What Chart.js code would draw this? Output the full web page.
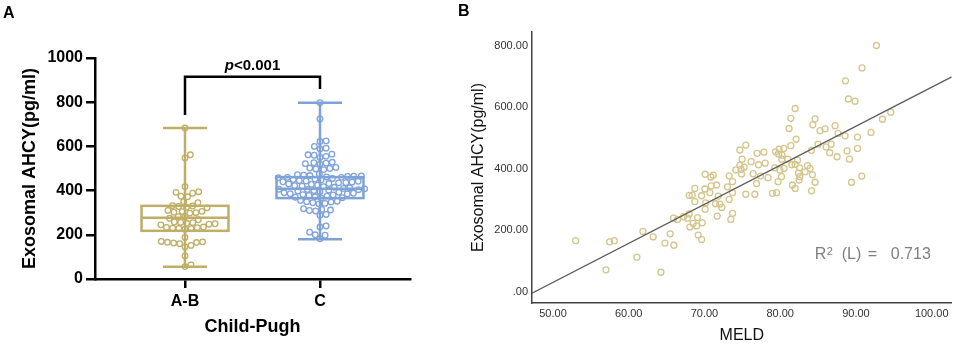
<!DOCTYPE html>
<html lang="en">
<head>
<meta charset="UTF-8">
<title>Exosomal AHCY</title>
<script src="https://cdn.jsdelivr.net/npm/chart.js"></script>
<style>
  body { margin: 0; background: #fff; width: 957px; height: 346px; position: relative; overflow: hidden; font-family: Arial, "Liberation Sans", sans-serif; }
  canvas { position: absolute; top: 0; }
  #chartA { left: 0; }
  #chartB { left: 440px; }
  .tag { position: absolute; font-weight: bold; font-size: 16px; color: #000; z-index: 2; }
</style>
</head>
<body>
<div class="tag" style="left:3px; top:4px;">A</div>
<div class="tag" style="left:458px; top:2px;">B</div>
<canvas id="chartA" width="440" height="346"></canvas>
<canvas id="chartB" width="517" height="346"></canvas>
<script>
const FONT = 'Arial, "Liberation Sans", sans-serif';

// ---- panel A: Child-Pugh groups ----
const groupNames = ['A-B', 'C'];
const groupColors = ['#BFAE66', '#7FA3D8'];
const valuesAB = [56, 64, 104, 145, 152, 160, 163, 165, 166, 168, 170, 188, 225, 228, 229, 230, 232, 233, 235,
  245, 248, 250, 252, 255, 256, 258, 268, 275, 280, 282, 298, 300, 302, 305, 306, 310, 322, 325, 328, 330,
  332, 345, 350, 372, 375, 388, 392, 395, 418, 548, 562, 683];
const valuesC = [798, 724, 625, 622, 600, 592, 588, 565, 562, 560, 555, 550, 528, 526, 524, 522, 520, 505, 502,
  500, 498, 495, 475, 472, 470, 468, 466, 465, 464, 462, 460, 460, 458, 455, 452, 450, 448, 445, 443, 442,
  440, 438, 436, 435, 432, 430, 428, 425, 422, 420, 418, 415, 412, 410, 408, 406, 405, 404, 402, 400, 398,
  395, 392, 390, 388, 386, 385, 382, 380, 378, 375, 372, 370, 368, 366, 355, 352, 350, 348, 345, 342, 340,
  318, 315, 312, 310, 308, 292, 288, 240, 235, 212, 200, 198, 182];
// box stats per group: min, q1, median, q3, max
const boxMin = [55, 180];
const boxQ1 = [218, 366];
const boxMedian = [277, 408];
const boxQ3 = [331, 461];
const boxMax = [683, 798];
const yTicksA = [0, 200, 400, 600, 800, 1000];
const bracketTop = 915;
const bracketLegs = [742, 860];
const pLabelY = 946;

// ---- panel B: MELD vs AHCY ----
const meldScore = [92.70, 90.80, 88.62, 89.01, 89.88, 94.59, 93.50, 91.99, 81.97, 81.40, 84.60, 84.30, 81.17,
  85.92, 85.26, 87.24, 87.64, 88.56, 90.20, 82.10, 85.00, 86.06, 86.72, 81.40, 84.13, 88.83, 90.20, 86.54,
  87.51, 89.14, 89.41, 90.77, 75.46, 74.67, 76.95, 77.84, 79.38, 79.85, 80.47, 80.25, 79.78, 74.97, 76.16,
  77.14, 78.01, 74.67, 75.24, 74.14, 74.84, 79.29, 80.21, 81.00, 82.28, 81.53, 81.97, 82.55, 83.60, 83.94,
  83.29, 84.26, 82.41, 82.59, 80.51, 79.95, 76.42, 77.40, 74.89, 73.26, 71.15, 70.09, 70.84, 78.40, 80.17,
  79.72, 82.49, 84.60, 81.62, 81.97, 84.13, 78.98, 79.51, 76.87, 75.46, 76.65, 73.71, 73.05, 70.88, 71.60,
  70.05, 68.73, 73.71, 70.71, 69.62, 68.38, 67.98, 71.81, 73.26, 68.73, 70.15, 71.46, 72.03, 72.30, 70.09,
  73.71, 73.48, 71.68, 69.09, 69.70, 68.51, 68.96, 68.07, 69.17, 69.62, 65.92, 66.45, 67.24, 67.98, 67.77,
  61.87, 63.23, 65.47, 64.78, 65.96, 61.08, 64.25, 53.00, 56.99, 57.48, 58.09];
const ahcyLevel = [801, 728, 686, 627, 620, 584, 561, 518, 596, 564, 562, 543, 531, 530, 524, 540, 515, 507,
  503, 496, 480, 471, 480, 475, 460, 458, 466, 452, 439, 431, 356, 376, 477, 461, 450, 454, 455, 464, 466,
  444, 448, 431, 423, 413, 418, 411, 405, 396, 398, 403, 431, 431, 428, 413, 414, 403, 410, 401, 390, 380,
  386, 374, 401, 396, 384, 376, 383, 377, 379, 382, 373, 371, 374, 358, 363, 356, 347, 336, 328, 320, 322,
  352, 317, 317, 358, 341, 344, 347, 334, 336, 322, 322, 312, 314, 313, 311, 300, 293, 289, 286, 285, 274,
  268, 255, 235, 246, 241, 224, 222, 214, 210, 184, 170, 239, 235, 244, 253, 239, 196, 178, 188, 158, 151,
  112, 63, 166, 71, 162, 166];
const fitX = [47.23, 102.64];
const fitY = [-5, 699];
const xTicksB = [50, 60, 70, 80, 90, 100];
const yTicksB = [0, 200, 400, 600, 800];
const r2Pos = [84.56, 106];

// box and whiskers behind the dots
const BOX_HALF = 0.322, CAP_HALF = 0.163;
const boxPlugin = {
  id: 'boxes',
  beforeDatasetsDraw(chart) {
    const { ctx, scales: { x, y } } = chart;
    ctx.save();
    ctx.lineWidth = 2.5;
    groupNames.forEach((g, i) => {
      const cx = x.getPixelForValue(i);
      const b0 = x.getPixelForValue(i - BOX_HALF), b1 = x.getPixelForValue(i + BOX_HALF);
      const c0 = x.getPixelForValue(i - CAP_HALF), c1 = x.getPixelForValue(i + CAP_HALF);
      ctx.strokeStyle = groupColors[i];
      ctx.beginPath();
      ctx.moveTo(cx, y.getPixelForValue(boxMin[i])); ctx.lineTo(cx, y.getPixelForValue(boxMax[i]));
      ctx.moveTo(c0, y.getPixelForValue(boxMin[i])); ctx.lineTo(c1, y.getPixelForValue(boxMin[i]));
      ctx.moveTo(c0, y.getPixelForValue(boxMax[i])); ctx.lineTo(c1, y.getPixelForValue(boxMax[i]));
      ctx.moveTo(b0, y.getPixelForValue(boxMedian[i])); ctx.lineTo(b1, y.getPixelForValue(boxMedian[i]));
      ctx.stroke();
      const yq3 = y.getPixelForValue(boxQ3[i]), yq1 = y.getPixelForValue(boxQ1[i]);
      ctx.strokeRect(b0, yq3, b1 - b0, yq1 - yq3);
    });
    ctx.restore();
  }
};

// spread dots sideways so they don't overlap (beeswarm)
const SWARM_GAP = 6.2;
const swarmPlugin = {
  id: 'swarm',
  afterDatasetsUpdate(chart) {
    chart.data.datasets.forEach((ds, di) => {
      const pts = chart.getDatasetMeta(di).data.slice().sort((a, b) => b.y - a.y);
      const placed = [];
      pts.forEach(p => {
        const near = placed.filter(q => Math.abs(q.y - p.y) < SWARM_GAP);
        const reach = q => Math.sqrt(SWARM_GAP * SWARM_GAP - (q.y - p.y) * (q.y - p.y));
        const cands = [0];
        near.forEach(q => { cands.push(q.dx + reach(q), q.dx - reach(q)); });
        cands.sort((a, b) => Math.abs(a) - Math.abs(b));
        const dx = cands.find(c => near.every(q => Math.abs(c - q.dx) >= reach(q) - 1e-6));
        placed.push({ y: p.y, dx: dx });
        p.x += dx;
      });
    });
  }
};

const bracketPlugin = {
  id: 'bracket',
  afterDraw(chart) {
    const { ctx, scales: { x, y } } = chart;
    const xl = x.getPixelForValue(0), xr = x.getPixelForValue(1);
    const yt = y.getPixelForValue(bracketTop);
    ctx.save();
    ctx.strokeStyle = '#000';
    ctx.lineWidth = 2.5;
    ctx.beginPath();
    ctx.moveTo(xl, y.getPixelForValue(bracketLegs[0]));
    ctx.lineTo(xl, yt); ctx.lineTo(xr, yt);
    ctx.lineTo(xr, y.getPixelForValue(bracketLegs[1]));
    ctx.stroke();
    const f1 = 'italic bold 15px ' + FONT, f2 = 'bold 15px ' + FONT;
    ctx.font = f1; const w1 = ctx.measureText('p').width;
    ctx.font = f2; const w2 = ctx.measureText('<0.001').width;
    const sx = (xl + xr) / 2 - (w1 + w2) / 2, by = y.getPixelForValue(pLabelY);
    ctx.fillStyle = '#000';
    ctx.font = f1; ctx.fillText('p', sx, by);
    ctx.font = f2; ctx.fillText('<0.001', sx + w1, by);
    ctx.restore();
  }
};

new Chart(document.getElementById('chartA'), {
  type: 'scatter',
  data: {
    datasets: [valuesAB, valuesC].map((vals, i) => ({
      label: groupNames[i],
      data: vals.map(v => ({ x: i, y: v })),
      borderColor: groupColors[i],
      backgroundColor: 'transparent',
      pointRadius: 2.8,
      pointBorderWidth: 1.3
    }))
  },
  options: {
    responsive: false,
    animation: false,
    layout: { padding: { top: 58, right: 30, left: 0, bottom: 0 } },
    plugins: { legend: { display: false }, tooltip: { enabled: false } },
    scales: {
      x: {
        type: 'linear', min: -0.6667, max: 1.6667,
        afterBuildTicks: s => { s.ticks = groupNames.map((n, i) => ({ value: i })); },
        afterFit: s => { s.height = 67; },
        ticks: { callback: v => groupNames[v], color: '#000', font: { family: FONT, size: 16, weight: 'bold' }, padding: 4, autoSkip: false, maxRotation: 0 },
        grid: { display: true, drawOnChartArea: false, drawTicks: true, tickLength: 9, color: '#000', lineWidth: 2.5 },
        border: { display: true, color: '#000', width: 2.5 },
        title: { display: true, text: 'Child-Pugh', color: '#000', font: { family: FONT, size: 18, weight: 'bold' }, padding: { top: 0, bottom: 8 } }
      },
      y: {
        min: 0, max: 1000,
        afterBuildTicks: s => { s.ticks = yTicksA.map(v => ({ value: v })); },
        afterFit: s => { s.width = 95; },
        ticks: { callback: v => String(v), color: '#000', font: { family: FONT, size: 16, weight: 'bold' }, padding: 3 },
        grid: { display: true, drawOnChartArea: false, drawTicks: true, tickLength: 9, color: '#000', lineWidth: 2.5 },
        border: { display: true, color: '#000', width: 2.5 },
        title: { display: true, text: 'Exosomal AHCY(pg/ml)', color: '#000', font: { family: FONT, size: 18, weight: 'bold' }, padding: { top: 19, bottom: 0 } }
      }
    }
  },
  plugins: [boxPlugin, swarmPlugin, bracketPlugin]
});

// R squared note
const r2Plugin = {
  id: 'r2',
  afterDraw(chart) {
    const { ctx, scales: { x, y } } = chart;
    const px = x.getPixelForValue(r2Pos[0]), py = y.getPixelForValue(r2Pos[1]);
    ctx.save();
    ctx.fillStyle = '#7f7f7f';
    ctx.font = '16px ' + FONT;
    ctx.fillText('R', px, py);
    ctx.font = '11px ' + FONT;
    ctx.fillText('2', px + 12, py - 4);
    ctx.font = '16px ' + FONT;
    ctx.fillText('(L)', px + 27, py);
    ctx.fillText('=', px + 53, py);
    ctx.fillText('0.713', px + 76, py);
    ctx.restore();
  }
};

new Chart(document.getElementById('chartB'), {
  type: 'scatter',
  data: {
    datasets: [
      {
        type: 'line',
        data: fitX.map((v, i) => ({ x: v, y: fitY[i] })),
        borderColor: '#5c5c5c',
        borderWidth: 1.3,
        pointRadius: 0,
        fill: false
      },
      {
        data: meldScore.map((v, i) => ({ x: v, y: ahcyLevel[i] })),
        borderColor: '#D5C58C',
        backgroundColor: 'transparent',
        pointRadius: 3,
        pointBorderWidth: 1.3
      }
    ]
  },
  options: {
    responsive: false,
    animation: false,
    layout: { padding: { top: 32, right: 5, left: 0, bottom: 0 } },
    plugins: { legend: { display: false }, tooltip: { enabled: false } },
    scales: {
      x: {
        type: 'linear', min: 47.23, max: 102.64,
        afterBuildTicks: s => { s.ticks = xTicksB.map(v => ({ value: v })); },
        afterFit: s => { s.height = 43; s.paddingLeft = 0; s.paddingRight = 0; },
        ticks: { callback: v => v.toFixed(2), color: '#333', font: { family: FONT, size: 11 }, padding: 4, autoSkip: false, maxRotation: 0 },
        grid: { display: false, drawTicks: false },
        border: { display: true, color: '#444', width: 1.5 },
        title: { display: true, text: 'MELD', color: '#111', font: { family: FONT, size: 16 }, padding: { top: 0, bottom: 1 } }
      },
      y: {
        min: -37, max: 845,
        afterBuildTicks: s => { s.ticks = yTicksB.map(v => ({ value: v })); },
        afterFit: s => { s.width = 92; s.paddingTop = 0; s.paddingBottom = 0; },
        ticks: { callback: v => v === 0 ? '.00' : v.toFixed(2), color: '#333', font: { family: FONT, size: 11 }, padding: 4 },
        grid: { display: false, drawTicks: false },
        border: { display: true, color: '#444', width: 1.5 },
        title: { display: true, text: 'Exosomal AHCY(pg/ml)', color: '#111', font: { family: FONT, size: 16 }, padding: { top: 29, bottom: 0 } }
      }
    }
  },
  plugins: [r2Plugin]
});
</script>
</body>
</html>
